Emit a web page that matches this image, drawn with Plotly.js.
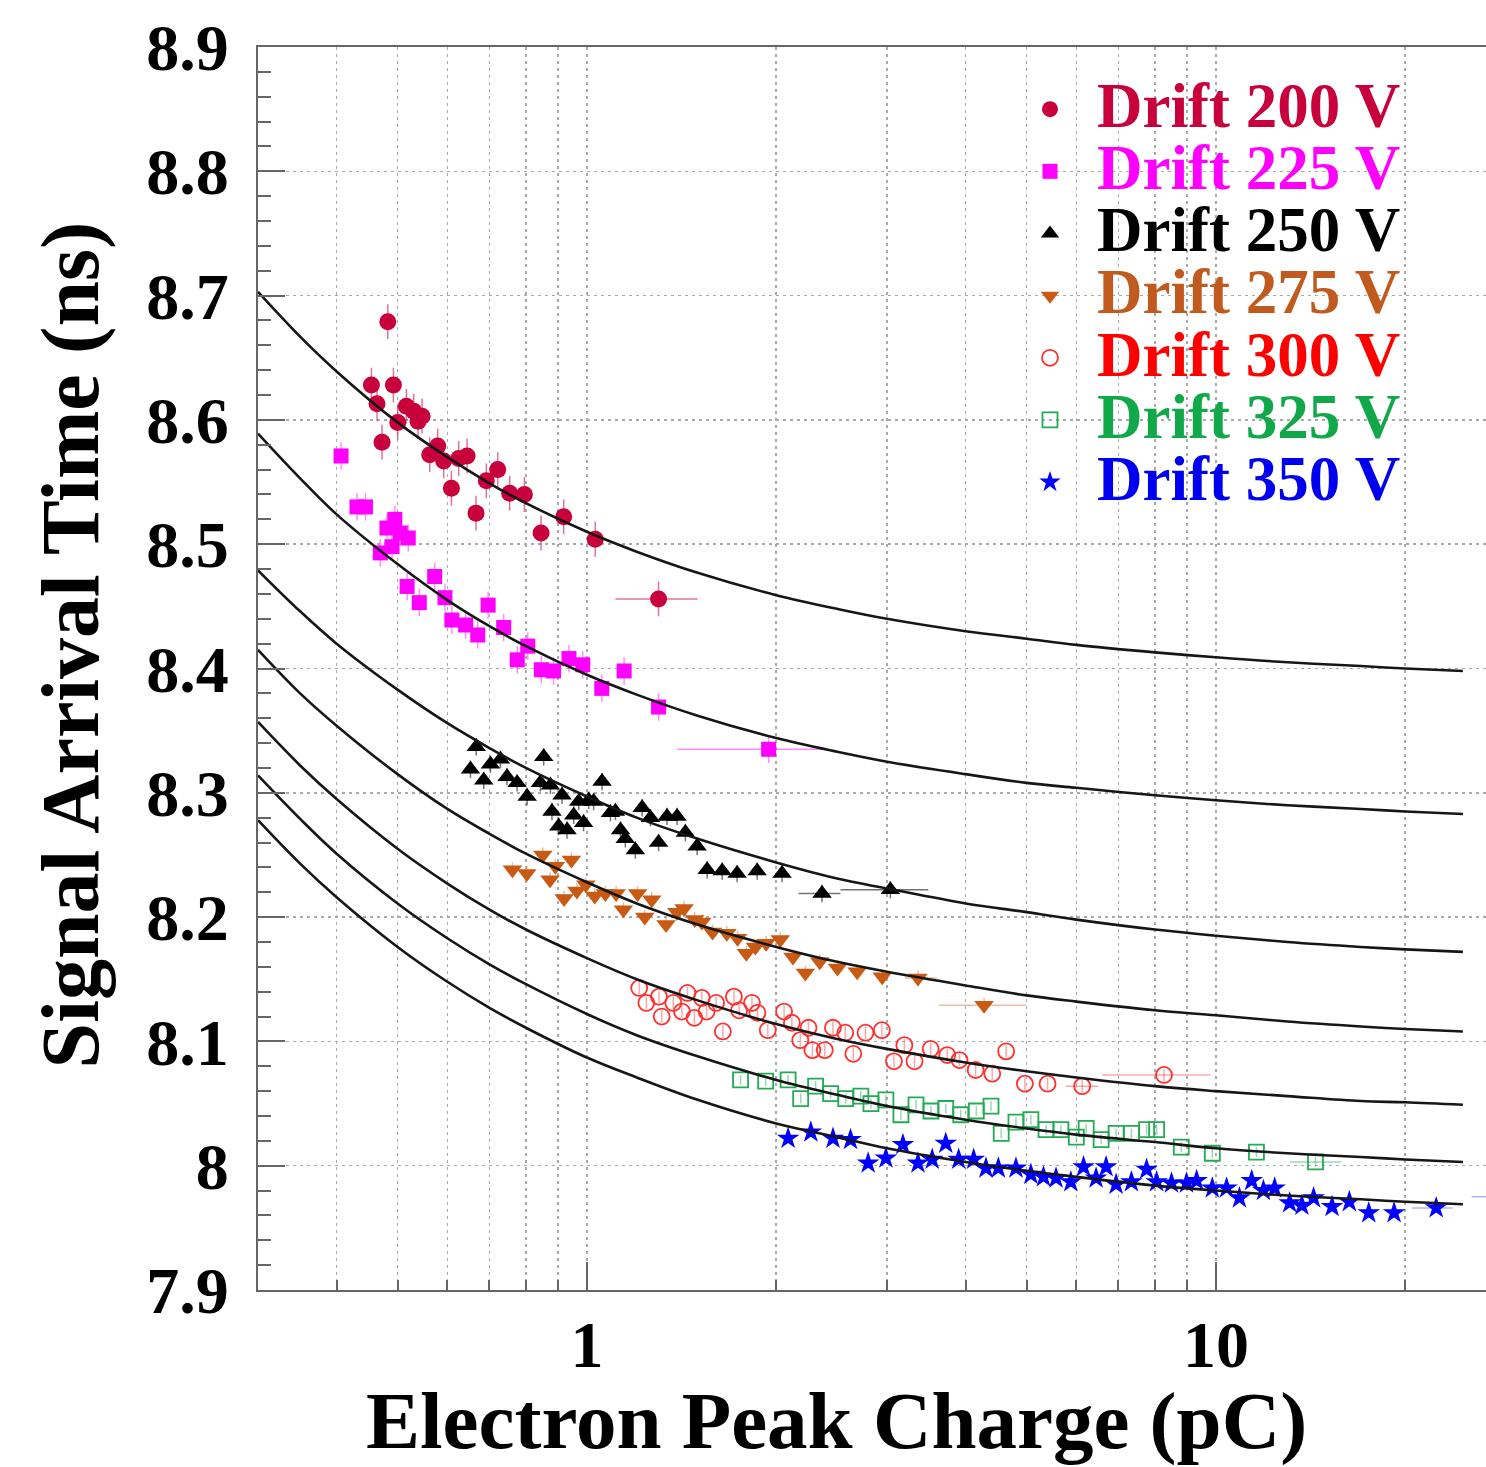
<!DOCTYPE html>
<html><head><meta charset="utf-8">
<script src="https://cdn.plot.ly/plotly-3.0.1.min.js"></script>
<style>html,body{margin:0;padding:0;overflow:hidden;background:#fff;width:1486px;height:1467px}#chart{width:1530px;height:1467px}</style>
</head><body><div id="chart"></div><script>
// ---- data: Drift 200 V
const x200 = [0.4544,0.4638,0.4724,0.4825,0.4925,0.5003,0.5164,0.5305,0.539,0.547,0.5625,0.5792,0.592,0.609,0.6255,0.645,0.6664,0.692,0.7215,0.7538,0.7955,0.8456,0.9186,1.031];
const y200 = [8.628,8.613,8.582,8.679,8.628,8.598,8.611,8.607,8.599,8.603,8.572,8.579,8.567,8.545,8.569,8.571,8.525,8.551,8.560,8.541,8.540,8.509,8.522,8.504];
const wx200 = [1.30], wy200 = [8.456], wlo200 = [1.11], whi200 = [1.50];
// ---- Drift 225 V
const x225 = [0.4066,0.431,0.4446,0.4694,0.481,0.49,0.495,0.505,0.5178,0.52,0.5414,0.5728,0.5948,0.61,0.6415,0.6706,0.6966,0.7374,0.775,0.8053,0.8465,0.885,0.9364,0.985,1.056,1.146,1.30];
const y225 = [8.571,8.530,8.530,8.493,8.513,8.498,8.520,8.509,8.466,8.505,8.453,8.474,8.457,8.439,8.435,8.427,8.451,8.433,8.407,8.418,8.399,8.398,8.408,8.403,8.384,8.398,8.369];
const wx225 = [1.945], wy225 = [8.335], wlo225 = [1.39], whi225 = [2.41];
// ---- Drift 250 V
const x250 = [0.653,0.667,0.6855,0.7026,0.7288,0.7465,0.7745,0.8035,0.8434,0.8538,0.875,0.880,0.902,0.913,0.930,0.953,0.9705,0.988,1.0066,1.025,1.057,1.09,1.11,1.131,1.151,1.194,1.224,1.262,1.30,1.341,1.391,1.434,1.497,1.553,1.641,1.733,1.865,2.043];
const y250 = [8.319,8.337,8.310,8.323,8.327,8.313,8.308,8.297,8.308,8.329,8.306,8.285,8.273,8.298,8.270,8.282,8.293,8.276,8.294,8.293,8.309,8.284,8.285,8.270,8.263,8.254,8.288,8.280,8.260,8.281,8.281,8.268,8.257,8.238,8.237,8.235,8.237,8.235];
const wx250 = [2.365,3.037], wy250 = [8.219,8.222], wlo250 = [2.17,2.53], whi250 = [2.53,3.49];
// ---- Drift 275 V
const x275 = [0.7615,0.8027,0.851,0.8737,0.891,0.920,0.945,0.964,0.996,1.029,1.07,1.113,1.143,1.204,1.236,1.268,1.336,1.39,1.427,1.484,1.523,1.584,1.669,1.736,1.793,1.853,1.927,2.03,2.126,2.225,2.345,2.503,2.69,2.948];
const y275 = [8.238,8.235,8.250,8.230,8.241,8.215,8.246,8.221,8.226,8.217,8.219,8.219,8.206,8.219,8.200,8.214,8.194,8.204,8.207,8.198,8.196,8.188,8.187,8.183,8.171,8.176,8.179,8.182,8.168,8.155,8.164,8.159,8.156,8.152];
const wx275 = [3.36,4.28], wy275 = [8.151,8.129], wlo275 = [3.2,3.63], whi275 = [3.6,4.99];
// ---- Drift 300 V
const x300 = [1.211,1.243,1.302,1.315,1.372,1.416,1.445,1.482,1.523,1.55,1.605,1.645,1.713,1.746,1.83,1.867,1.939,2.058,2.118,2.184,2.251,2.283,2.389,2.461,2.575,2.652,2.773,2.944,3.077,3.197,3.318,3.52,3.74,3.912,4.15,4.41,4.64,4.97,5.40];
const y300 = [8.143,8.131,8.136,8.120,8.131,8.124,8.139,8.119,8.135,8.124,8.131,8.108,8.136,8.125,8.131,8.123,8.109,8.124,8.115,8.101,8.111,8.093,8.093,8.111,8.107,8.090,8.107,8.109,8.084,8.097,8.084,8.094,8.089,8.085,8.077,8.074,8.092,8.066,8.066];
const wx300 = [6.13,8.27], wy300 = [8.064,8.073], wlo300 = [5.77,6.6], whi300 = [6.5,9.8];
// ---- Drift 325 V
const x325 = [1.755,1.924,2.089,2.187,2.31,2.441,2.58,2.726,2.829,2.988,3.157,3.336,3.524,3.72,3.93,4.16,4.39,4.557,4.81,5.08,5.37,5.67,6.0,6.22,6.57,6.94,7.34,7.76,8.05,8.81,9.87,11.6];
const y325 = [8.069,8.068,8.069,8.054,8.064,8.058,8.054,8.056,8.050,8.053,8.041,8.049,8.044,8.046,8.041,8.044,8.048,8.026,8.035,8.037,8.029,8.029,8.023,8.030,8.021,8.026,8.026,8.029,8.029,8.015,8.010,8.011];
const wx325 = [14.4], wy325 = [8.003], wlo325 = [13.1], whi325 = [15.8];
// ---- Drift 350 V
const x350 = [2.089,2.27,2.462,2.625,2.8,2.988,3.18,3.36,3.54,3.72,3.9,4.12,4.31,4.51,4.81,5.08,5.32,5.57,5.88,6.16,6.45,6.69,6.94,7.34,7.76,8.05,8.5,8.98,9.32,9.87,10.4,10.9,11.4,11.9,12.4,13.1,13.7,14.3,15.3,16.3,17.5,19.2];
const y350 = [8.022,8.027,8.022,8.021,8.002,8.006,8.017,8.002,8.005,8.018,8.005,8.005,7.998,7.998,7.998,7.993,7.991,7.990,7.987,7.999,7.990,7.999,7.985,7.987,7.997,7.987,7.986,7.986,7.988,7.982,7.982,7.974,7.988,7.980,7.982,7.970,7.968,7.974,7.967,7.971,7.962,7.962];
const wx350 = [22.4,29.0], wy350 = [7.966,7.975], wlo350 = [20.5,25.5], whi350 = [23.8,33.0];
// ---- fit curves
const fitX   = [0.3,0.35,0.4,0.5,0.6,0.7,0.8,1.0,1.2,1.5,2,2.5,3,4,5,6,8,10,13,17,20,24.7];
const fit200 = [8.703,8.667,8.639,8.598,8.570,8.549,8.533,8.510,8.494,8.477,8.459,8.448,8.440,8.430,8.424,8.419,8.413,8.409,8.405,8.402,8.400,8.398];
const fit225 = [8.589,8.553,8.524,8.484,8.455,8.434,8.418,8.395,8.379,8.362,8.344,8.333,8.325,8.315,8.308,8.304,8.298,8.294,8.290,8.287,8.285,8.283];
const fit250 = [8.479,8.446,8.420,8.383,8.356,8.336,8.320,8.297,8.280,8.263,8.244,8.231,8.223,8.211,8.204,8.198,8.190,8.185,8.180,8.176,8.174,8.172];
const fit275 = [8.415,8.380,8.354,8.315,8.287,8.267,8.251,8.228,8.211,8.194,8.176,8.164,8.156,8.145,8.137,8.132,8.125,8.121,8.116,8.112,8.110,8.108];
const fit300 = [8.357,8.322,8.295,8.255,8.227,8.206,8.190,8.167,8.150,8.133,8.114,8.102,8.094,8.083,8.076,8.071,8.064,8.060,8.056,8.052,8.051,8.049];
const fit325 = [8.314,8.279,8.251,8.211,8.183,8.162,8.146,8.122,8.105,8.088,8.069,8.057,8.048,8.037,8.030,8.025,8.019,8.014,8.010,8.007,8.005,8.003];
const fit350 = [8.278,8.243,8.216,8.176,8.148,8.127,8.111,8.087,8.071,8.053,8.034,8.023,8.014,8.003,7.996,7.991,7.984,7.980,7.976,7.973,7.971,7.969];
const yTicks = [7.9,8.0,8.1,8.2,8.3,8.4,8.5,8.6,8.7,8.8,8.9];
const yTickText = ['7.9','8','8.1','8.2','8.3','8.4','8.5','8.6','8.7','8.8','8.9'];

const FONT = 'Liberation Serif, Times New Roman, serif';
const series = [
  {label:'Drift 200 V', x:x200, y:y200, wx:wx200, wy:wy200, wlo:wlo200, whi:whi200, fit:fit200, color:'#c8003c', txt:'#c8003c', bar:'rgba(200,0,60,0.55)', symbol:'circle', size:17, ey:0.014},
  {label:'Drift 225 V', x:x225, y:y225, wx:wx225, wy:wy225, wlo:wlo225, whi:whi225, fit:fit225, color:'#ff00ff', txt:'#ff00ff', bar:'rgba(255,0,255,0.45)', symbol:'square', size:15, ey:0.011},
  {label:'Drift 250 V', x:x250, y:y250, wx:wx250, wy:wy250, wlo:wlo250, whi:whi250, fit:fit250, color:'#000000', txt:'#000000', bar:'rgba(0,0,0,0.55)', symbol:'triangle-up', size:17, ey:0.007},
  {label:'Drift 275 V', x:x275, y:y275, wx:wx275, wy:wy275, wlo:wlo275, whi:whi275, fit:fit275, color:'#c85a14', txt:'#c05a1e', bar:'rgba(200,90,20,0.4)', symbol:'triangle-down', size:17, ey:0.006},
  {label:'Drift 300 V', x:x300, y:y300, wx:wx300, wy:wy300, wlo:wlo300, whi:whi300, fit:fit300, color:'#ff3030', txt:'#ff0000', bar:'rgba(255,60,60,0.45)', symbol:'circle-open', size:16, ey:0.005},
  {label:'Drift 325 V', x:x325, y:y325, wx:wx325, wy:wy325, wlo:wlo325, whi:whi325, fit:fit325, color:'#22aa55', txt:'#11a84a', bar:'rgba(30,170,80,0.45)', symbol:'square-open', size:15, ey:0.004},
  {label:'Drift 350 V', x:x350, y:y350, wx:wx350, wy:wy350, wlo:wlo350, whi:whi350, fit:fit350, color:'#0000ff', txt:'#0000ee', bar:'rgba(60,60,255,0.4)', symbol:'star', size:17, ey:0.004}
];

const traces = [];
series.forEach((s, i) => {
  const mk = {symbol:s.symbol, size:s.size, color:s.color, line:{color:s.color, width: s.symbol.endsWith('open') ? 1.8 : 0}};
  traces.push({
    type:'scatter', mode:'markers', x:s.x, y:s.y, legendgroup:'g'+i,
    name:'<span style="font-size:63px;color:'+s.txt+'">'+s.label+'</span>',
    marker:mk,
    error_y:{type:'constant', value:s.ey, color:s.bar, thickness:1.5, width:0}
  });
  traces.push({
    type:'scatter', mode:'markers', x:s.wx, y:s.wy, legendgroup:'g'+i, showlegend:false,
    marker:mk,
    error_y:{type:'constant', value:s.ey, color:s.bar, thickness:1.5, width:0},
    error_x:{type:'data', symmetric:false,
      array:s.whi.map((h,k)=>h - s.wx[k]), arrayminus:s.wlo.map((l,k)=>s.wx[k]-l),
      color:s.bar, thickness:1.5, width:0}
  });
});
series.forEach((s) => {
  traces.push({type:'scatter', mode:'lines', x:fitX, y:s.fit, showlegend:false, hoverinfo:'skip',
    line:{color:'#161616', width:2.6, shape:'spline', smoothing:1}});
});

const layout = {
  width:1530, height:1467,
  margin:{l:258, r:14, t:47, b:177, pad:0},
  paper_bgcolor:'#ffffff', plot_bgcolor:'#ffffff',
  showlegend:true,
  legend:{x:0.5922, y:0.979, xanchor:'left', yanchor:'top', bgcolor:'rgba(0,0,0,0)', borderwidth:0,
    font:{family:FONT, size:45.5, weight:'bold', color:'#000'}, itemwidth:84, tracegroupgap:0},
  xaxis:{type:'log', range:[Math.log10(0.3), Math.log10(30)], dtick:1,
    showline:true, linecolor:'#666', linewidth:2, mirror:true,
    ticks:'inside', ticklen:28, tickwidth:2, tickcolor:'#666',
    showgrid:true, gridcolor:'#aaaaaa', gridwidth:1.5, griddash:'3px,4px',
    zeroline:false, ticklabelstandoff:-4,
    tickfont:{family:FONT, size:66, weight:'bold', color:'#000'},
    minor:{dtick:'D1', ticks:'inside', ticklen:10, tickwidth:2, tickcolor:'#666', showgrid:true, gridcolor:'#aaaaaa', gridwidth:1.5, griddash:'3px,4px'}
  },
  yaxis:{range:[7.9, 8.9], tickmode:'array', tickvals:yTicks, ticktext:yTickText,
    showline:true, linecolor:'#666', linewidth:2, mirror:true,
    ticks:'inside', ticklen:27, tickwidth:2, tickcolor:'#666',
    showgrid:true, gridcolor:'#aaaaaa', gridwidth:1.5, griddash:'3px,4px',
    zeroline:false, ticklabelstandoff:14,
    tickfont:{family:FONT, size:66, weight:'bold', color:'#000'},
    minor:{dtick:0.02, ticks:'inside', ticklen:13, tickwidth:2, tickcolor:'#666', showgrid:false}
  },
  annotations:[
    {text:'Electron Peak Charge (pC)', xref:'paper', yref:'paper', x:0.4595, y:-0.1055, xanchor:'center', yanchor:'middle', showarrow:false,
     font:{family:FONT, size:81, weight:'bold', color:'#000'}},
    {text:'Signal Arrival Time (ns)', xref:'paper', yref:'paper', x:-0.149, y:0.519, xanchor:'center', yanchor:'middle', showarrow:false, textangle:-90,
     font:{family:FONT, size:82, weight:'bold', color:'#000'}}
  ]
};
Plotly.newPlot('chart', traces, layout, {displayModeBar:false, staticPlot:true});
</script></body></html>
